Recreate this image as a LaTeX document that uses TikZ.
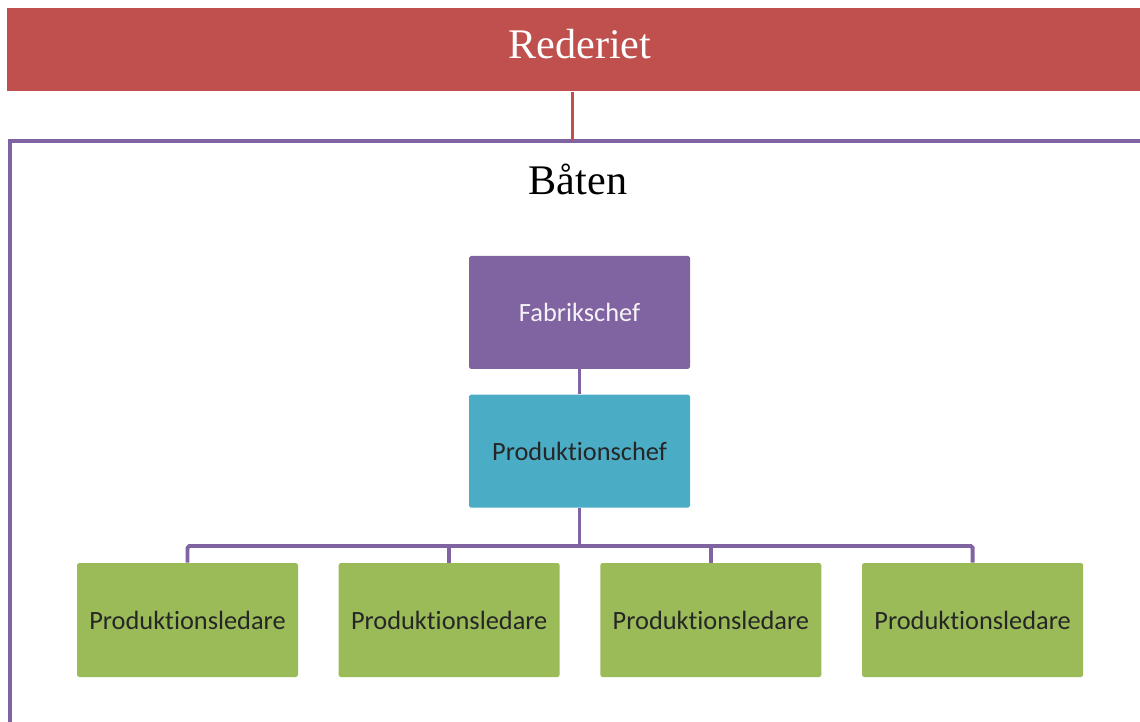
\documentclass[tikz,border=0pt]{standalone}
\usepackage{fontspec}
\setmainfont{Liberation Serif}
\newfontfamily\boxfont[Ligatures=NoCommon]{Carlito}
\usetikzlibrary{
  positioning,
  calc
}
\definecolor{OwnerRed}{RGB}{192,80,77}
\definecolor{BoatPurple}{RGB}{128,100,162}
\definecolor{ChiefCyan}{RGB}{75,172,198}
\definecolor{LeadGreen}{RGB}{155,187,89}
\tikzset{
  %%── 组织图节点 ─────────────────────────────────────────────
  ownerbar/.style = {
    rectangle, fill = OwnerRed, text = white,
    minimum width = 22.9cm, minimum height = 1.66cm,
    text depth = 0.25cm,
    font = \fontsize{24}{28}\selectfont
  },
  orgbox/.style = {
    rectangle, rounded corners = 1pt,
    minimum width = 4.42cm, minimum height = 2.26cm,
    inner sep = 0pt, font = \boxfont\fontsize{15}{18}\selectfont
  },
  fabrik/.style   = {orgbox, fill = BoatPurple, text = white!92!BoatPurple},
  prodchef/.style = {orgbox, fill = ChiefCyan,  text = black!85},
  leader/.style   = {orgbox, fill = LeadGreen,  text = black!85,
                     minimum height = 2.28cm},
  %%── 框与连线 ───────────────────────────────────────────────
  boatframe/.style = {draw = BoatPurple, line width = 2.2pt},
  orgline/.style   = {draw = BoatPurple, line width = 2.2pt,
                      rounded corners = 1pt},
  ownline/.style   = {draw = OwnerRed,   line width = 2.2pt},
}

\begin{document}
\begin{tikzpicture}
  \useasboundingbox (0,0) rectangle (22.8,-14.44);

  %% ── 船东 ─────────────────────────────────────────────
  \node[ownerbar, anchor=north west] (rederiet) at (0.14,-0.16) {Rederiet};

  %% ── 船框 ─────────────────────────────────────────────
  \coordinate (frameTL) at (0.2,-2.82);
  \draw[boatframe] (0.2,-15) -- (frameTL) -- (23.2,-2.82);
  \node (baten) at (11.56,-3.58) {\fontsize{24}{28}\selectfont Båten};

  %% ── 管理层 ───────────────────────────────────────────
  \node[fabrik] (fabrik) at (11.59,-6.25) {Fabrikschef};
  \node[prodchef, below=0.5cm of fabrik] (prodchef) {Produktionschef};

  %% ── 生产组长 ─────────────────────────────────────────
  \node[leader] (lead1) at (3.75,-12.4) {Produktionsledare};
  \node[leader, right=0.8cm of lead1] (lead2) {Produktionsledare};
  \node[leader, right=0.8cm of lead2] (lead3) {Produktionsledare};
  \node[leader, right=0.8cm of lead3] (lead4) {Produktionsledare};

  %% ── 连线 ─────────────────────────────────────────────
  \draw[ownline] (rederiet.south -| 11.45,0) -- (11.45,-2.82);
  \coordinate (bus) at ($(prodchef.south)+(0,-0.76)$);
  \draw[orgline] (fabrik) -- (prodchef);
  \draw[orgline] (prodchef.south) -- (bus);
  \draw[orgline] (lead1.north) |- (bus) -| (lead4.north);
  \draw[orgline] (lead2.north) -- (lead2.north |- bus);
  \draw[orgline] (lead3.north) -- (lead3.north |- bus);

\end{tikzpicture}
\end{document}
